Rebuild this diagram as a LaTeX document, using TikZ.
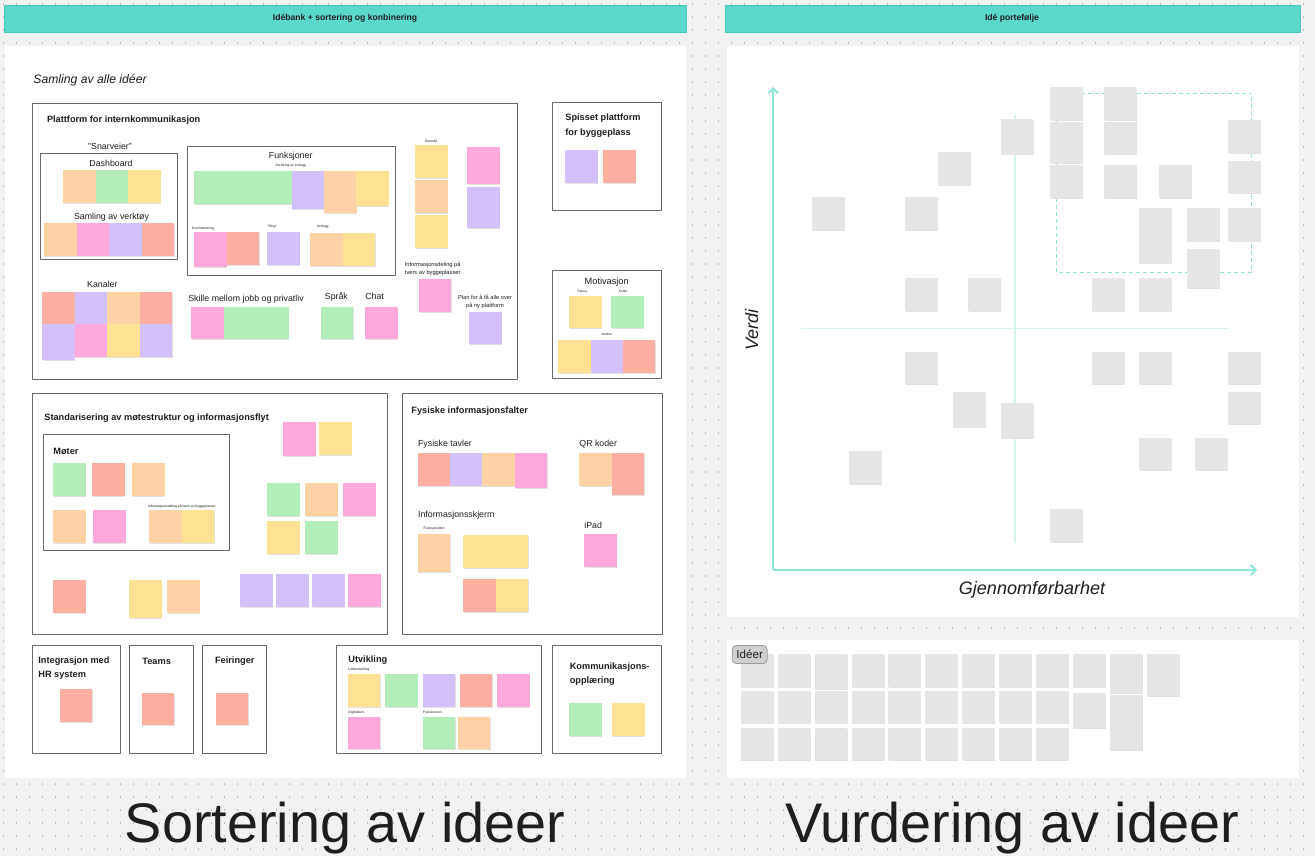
\documentclass[tikz,border=0pt]{standalone}
\usepackage{fontspec}
\setmainfont{Liberation Sans}
\usepackage{tikz}
\usetikzlibrary{arrows.meta}
\definecolor{ibBoard}{HTML}{F2F2F2}
\definecolor{ibDot}{HTML}{BDBDBD}
\definecolor{ibTeal}{HTML}{5CD8CB}
\definecolor{ibTealEdge}{HTML}{48C8BA}
\definecolor{ibAxis}{HTML}{8FE5DA}
\definecolor{ibGuide}{HTML}{D5F4F0}
\definecolor{ibInk}{HTML}{1E1E1E}
\definecolor{ibFrame}{HTML}{6A6A6A}
\definecolor{ibShade}{HTML}{E2E2E2}
\definecolor{snOrange}{HTML}{FFD2A6}
\definecolor{snGreen}{HTML}{B3EDBA}
\definecolor{snYellow}{HTML}{FFE194}
\definecolor{snPurple}{HTML}{D4C0FA}
\definecolor{snPink}{HTML}{FFA8DC}
\definecolor{snRed}{HTML}{FFAFA2}
\definecolor{snGray}{HTML}{E6E6E6}
\tikzset{
  ib board/.style={x=0.5pt, y=-0.5pt, text=ibInk, line join=round},
  ib dots/.style={draw=ibDot, line width=0.5pt, dash pattern=on 1pt off 5.5pt},
  ib banner/.style={fill=ibTeal, draw=ibTealEdge, line width=0.4pt},
  ib panel/.style={fill=white},
  ib frame/.style={draw=ibFrame, line width=0.5pt},
  ib sticky/.style={line width=0pt},
  ib shadow/.style={fill=ibShade, shift={(0.5,1)}},
  ib head/.style={font=\fontsize{4.3}{5}\selectfont\bfseries, inner sep=0pt},
  ib title/.style={font=\fontsize{4.6}{7.2}\selectfont\bfseries, anchor=west, align=left, inner sep=0pt},
  ib sub/.style={font=\fontsize{4.4}{5.3}\selectfont, inner sep=0pt},
  ib label/.style={font=\fontsize{2.85}{3.9}\selectfont, align=center, inner sep=0pt},
  ib tiny/.style={font=\fontsize{1.7}{2.1}\selectfont, inner sep=0pt},
  ib hand/.style={font=\fontsize{9}{10}\selectfont\itshape, inner sep=0pt},
  ib axis/.style={draw=ibAxis, line width=0.9pt, -{Straight Barb[length=2.5pt,width=5pt]}},
  ib guide/.style={draw=ibGuide, line width=0.8pt},
  ib zone/.style={draw=ibAxis, line width=0.5pt, dash pattern=on 2pt off 1.5pt},
  ib badge/.style={fill=snGray!90!black, draw=black!40, line width=0.4pt, rounded corners=2pt,
    font=\fontsize{5.8}{6}\selectfont, minimum width=17.5pt, minimum height=9pt, inner sep=0pt},
  ib big/.style={font=\fontsize{27.9}{32}\selectfont, inner sep=0pt, anchor=base}
}
\newcommand{\ibnote}[3][32.5]{\fill[ib shadow] (#3) rectangle ++(32.5,#1);
  \fill[ib sticky,#2] (#3) rectangle ++(32.5,#1);}

\begin{document}
\begin{tikzpicture}[ib board]
\useasboundingbox (0,0) rectangle (1315,856);
\fill[ibBoard] (0,0) rectangle (1315,856);
\foreach \i in {0,...,100} \draw[ib dots] (3+13*\i,3) -- (3+13*\i,856);

% headers and panels
\fill[ib banner] (4,5) rectangle (686,32);
\fill[ib banner] (725,5) rectangle (1300,32);
\node[ib head] (tBankHead) at (345,18.5) {Idébank + sortering og konbinering};
\node[ib head] (tPortHead) at (1012,18.5) {Idé portefølje};
\fill[ib panel] (5,46) rectangle (686,778);
\fill[ib panel] (727,46) rectangle (1299,617);
\fill[ib panel] (727,640) rectangle (1299,778);

\node[ib hand, font=\fontsize{6.1}{7}\selectfont\itshape, anchor=west] (tSamling) at (33,80) {Samling av alle idéer};

% plattform for internkommunikasjon
\draw[ib frame] (32,104) rectangle (517,379);
\draw[ib frame] (40.6,153.3) rectangle (177.5,259.3);
\draw[ib frame] (187.6,146.7) rectangle (395,275.3);
\node[ib title] (tPlatt) at (46.6,120) {Plattform for internkommunikasjon};
\node[ib sub] (tSnarvei) at (110,146.7) {"Snarveier"};
\node[ib sub] (tDash) at (111,163.3) {Dashboard};
\node[ib sub] (tVerktoy) at (111.5,217.3) {Samling av verktøy};
\node[ib sub] (tKanaler) at (102.4,284) {Kanaler};
\node[ib sub] (tFunk) at (290.7,156) {Funksjoner};
\node[ib tiny] (tSortInn) at (290.7,165.3) {Sortering av innlegg};
\node[ib tiny] (tKomm) at (203,228.3) {Kommentering};
\node[ib tiny] (tBlog) at (272,226.7) {"Blog"};
\node[ib tiny] (tInnlegg) at (323,226.7) {Innlegg};
\node[ib tiny] (tOversikt) at (431,141.7) {Oversikt};
\node[ib label] (tInfoTvers) at (432.7,269) {Informasjonsdeling på\\tvers av byggeplasser};
\node[ib label] (tPlan) at (485,301.5) {Plan for å få alle over\\på ny plattform};
\node[ib sub] (tSkille) at (246,299) {Skille mellom jobb og privatliv};
\node[ib sub] (tSprak) at (336.4,297.3) {Språk};
\node[ib sub] (tChat) at (374.6,296.7) {Chat};

\foreach \x/\c in {63/snOrange,95.5/snGreen,128/snYellow} \ibnote{\c}{\x,170};
\foreach \x/\c in {44/snOrange,76.5/snPink,109/snPurple,141.5/snRed} \ibnote{\c}{\x,223.3};
\foreach \x/\c in {42/snRed,74.5/snPurple,107/snOrange,139.5/snRed} \ibnote{\c}{\x,291.7};
\ibnote[36]{snPurple}{42,324.2}
\foreach \x/\c in {74.5/snPink,107/snYellow,139.5/snPurple} \ibnote{\c}{\x,324.2};
\foreach \x/\c in {194.4/snGreen,226.8/snGreen,259.2/snGreen} \ibnote{\c}{\x,171};
\ibnote[38]{snPurple}{291.6,171}
\ibnote[42]{snOrange}{324,171}
\ibnote[35]{snYellow}{356.4,171}
\ibnote[35]{snPink}{194.4,232.3}
\ibnote{snRed}{226.8,232.3}
\ibnote{snPurple}{267,232.3}
\ibnote{snOrange}{310,233.3}
\ibnote{snYellow}{342.5,233.3}
\ibnote{snYellow}{415,145}
\ibnote{snOrange}{415,180}
\ibnote{snYellow}{415,215}
\ibnote[37.6]{snPink}{467,146.7}
\ibnote[40.4]{snPurple}{467,187.3}
\ibnote{snPink}{418.5,279.3}
\ibnote{snPurple}{469,311.7}
\foreach \x/\c in {191/snPink,223.5/snGreen,256/snGreen} \ibnote{\c}{\x,306.7};
\ibnote{snGreen}{320.5,306.7}
\ibnote{snPink}{365,306.7}

% spisset plattform og motivasjon
\draw[ib frame] (552.7,102.3) rectangle (661,210);
\node[ib title] (tSpisset) at (565,125.5) {Spisset plattform\\for byggeplass};
\ibnote{snPurple}{565,150}
\ibnote{snRed}{603.3,150}
\draw[ib frame] (552.7,270.7) rectangle (661,378.3);
\node[ib sub, font=\fontsize{4.6}{5.5}\selectfont] (tMotiv) at (606.7,281.7) {Motivasjon};
\node[ib tiny] (tStatus) at (582.3,291.3) {Status};
\node[ib tiny] (tKultur) at (623.3,291.3) {Kultur};
\node[ib tiny] (tVerdier) at (606.7,334.3) {Verdier};
\ibnote{snYellow}{569.3,295.7}
\ibnote{snGreen}{611,295.7}
\foreach \x/\c in {558.3/snYellow,590.5/snPurple,622.7/snRed} \ibnote{\c}{\x,340.3};

% standarisering
\draw[ib frame] (32,393) rectangle (387,634);
\draw[ib frame] (43,434) rectangle (229,550);
\node[ib title] (tStand) at (44,418.3) {Standarisering av møtestruktur og informasjonsflyt};
\node[ib title] (tMoter) at (53,451) {Møter};
\node[ib tiny, anchor=west] (tMoteInfo) at (148,506) {Informasjonsdeling på tvers av byggeplasser};
\foreach \x/\c in {53/snGreen,92/snRed,132/snOrange} \ibnote{\c}{\x,463.3};
\foreach \x/\c in {53/snOrange,93/snPink,149/snOrange,181.5/snYellow} \ibnote{\c}{\x,510};
\ibnote[34]{snPink}{283,422}
\ibnote{snYellow}{319,422}
\foreach \x/\c in {267/snGreen,305/snOrange,343/snPink} \ibnote{\c}{\x,483};
\foreach \x/\c in {267/snYellow,305/snGreen} \ibnote{\c}{\x,521};
\foreach \x/\c in {240/snPurple,276/snPurple,312/snPurple,348/snPink} \ibnote{\c}{\x,574};
\ibnote{snRed}{53,580}
\ibnote[38]{snYellow}{129,580}
\ibnote{snOrange}{167,580}

% fysiske informasjonsflater
\draw[ib frame] (402,393) rectangle (662,634);
\node[ib title] (tFysisk) at (411,411) {Fysiske informasjonsfalter};
\node[ib sub, anchor=west] (tTavler) at (417.7,444) {Fysiske tavler};
\node[ib sub, anchor=west] (tQR) at (579,444) {QR koder};
\node[ib sub, anchor=west] (tSkjerm) at (417.7,515) {Informasjonsskjerm};
\node[ib sub, anchor=west] (tIpad) at (584,525.7) {iPad};
\node[ib tiny] (tFunksjon) at (434,529) {Funksjonalitet};
\foreach \x/\c in {417.7/snRed,450/snPurple,482.3/snOrange} \ibnote{\c}{\x,453.3};
\ibnote[35]{snPink}{514.7,453.3}
\ibnote{snOrange}{579,453.3}
\ibnote[41.7]{snRed}{611.7,453.3}
\ibnote[38]{snOrange}{417.7,534.3}
\ibnote{snYellow}{463.3,535}
\ibnote{snYellow}{495.7,535}
\ibnote{snRed}{463.3,579}
\ibnote{snYellow}{495.7,579}
\ibnote{snPink}{584.3,534}

% nederste rad
\draw[ib frame] (32.5,645) rectangle (120.5,753);
\draw[ib frame] (129,645) rectangle (193.8,753);
\draw[ib frame] (202.5,645) rectangle (266.7,753);
\draw[ib frame] (336,645) rectangle (541,753);
\draw[ib frame] (552,645) rectangle (661.3,753);
\node[ib title] (tIntegr) at (38,668.3) {Integrasjon med\\HR system};
\node[ib title] (tTeams) at (142,661) {Teams};
\node[ib title] (tFeir) at (214.7,661) {Feiringer};
\node[ib title] (tUtv) at (348,660) {Utvikling};
\node[ib title] (tKursOpp) at (569.4,674) {Kommunikasjons-\\opplæring};
\node[ib tiny, anchor=west] (tLeder) at (348,670) {Lederutvikling};
\node[ib tiny, anchor=west] (tDigital) at (348,712.3) {Digitalkurs};
\node[ib tiny, anchor=west] (tFyskurs) at (422.8,713) {Fysiske kurs};
\ibnote{snRed}{59.8,689}
\ibnote{snRed}{141.8,692.7}
\ibnote{snRed}{215.5,692.7}
\foreach \x/\c in {347.8/snYellow,385/snGreen,422.8/snPurple,459.7/snRed,497.4/snPink} \ibnote{\c}{\x,674.3};
\ibnote{snPink}{347.8,716.7}
\ibnote{snGreen}{422.8,716.7}
\ibnote{snOrange}{457.5,716.7}
\ibnote{snGreen}{569,703.3}
\ibnote{snYellow}{612.3,703.3}

% idé portefølje
\coordinate (vOrigin) at (773,570);
\coordinate (vTop) at (773,87);
\coordinate (vRight) at (1257,570);
\coordinate (gTop) at (1015,115);
\coordinate (gBot) at (1015,543);
\coordinate (gLeft) at (801,328.3);
\coordinate (gRight) at (1229,328.3);
\coordinate (zoneA) at (1056.7,93.3);
\coordinate (zoneB) at (1251.7,272.7);
\draw[ib guide] (gTop) -- (gBot);
\draw[ib guide] (gLeft) -- (gRight);
\draw[ib zone] (zoneA) rectangle (zoneB);
\draw[ib axis] (vOrigin) -- (vTop);
\draw[ib axis] (vOrigin) -- (vRight);
\node[ib hand, rotate=90] (tVerdi) at (751.7,330) {Verdi};
\node[ib hand] (tGjennom) at (1032,590) {Gjennomførbarhet};
\foreach \x/\y in {811.7/197.3,905/197.3,937.7/152.3,905/278.3,968.3/278.3,
  1050/87.3,1050/165,1104.3/87.3,1104.3/121.7,1104.3/165,1159/165,1186.7/208.3,
  1228.3/120,1228.3/160.7,1228.3/208.3,1091.7/278.3,1139.3/278.3,
  905/351.7,849/451,1091.7/351.7,1139.3/351.7,1228.3/351.7,1228.3/391.7,
  1139.3/437.7,1195/437.7,1050/509.3}
  \ibnote{snGray}{\x,\y};
\ibnote[35]{snGray}{1000.7,119.3}
\ibnote[41]{snGray}{1050,121.7}
\ibnote[54.3]{snGray}{1139.3,208.3}
\ibnote[38.3]{snGray}{1186.7,249.3}
\ibnote[35.6]{snGray}{952.7,391.7}
\ibnote[35]{snGray}{1000.7,403.3}

% idéer
\foreach \c in {0,1,3,4,5,6,7,8,9} \ibnote{snGray}{740.8+36.9*\c,654};
\ibnote[35.3]{snGray}{814.6,654}
\ibnote[38.7]{snGray}{1109.8,654}
\ibnote[42]{snGray}{1146.7,654}
\foreach \c in {0,...,8} \ibnote{snGray}{740.8+36.9*\c,690.7};
\ibnote[35.7]{snGray}{1072.9,692.7}
\ibnote[54.7]{snGray}{1109.8,695.3}
\foreach \c in {0,...,8} \ibnote{snGray}{740.8+36.9*\c,727.7};
\node[ib badge] (tIdeer) at (749.7,654.5) {Idéer};

% overskrifter
\node[ib big] (tSort) at (345,842) {Sortering av ideer};
\node[ib big] (tVurd) at (1012,842) {Vurdering av ideer};
\end{tikzpicture}
\end{document}
